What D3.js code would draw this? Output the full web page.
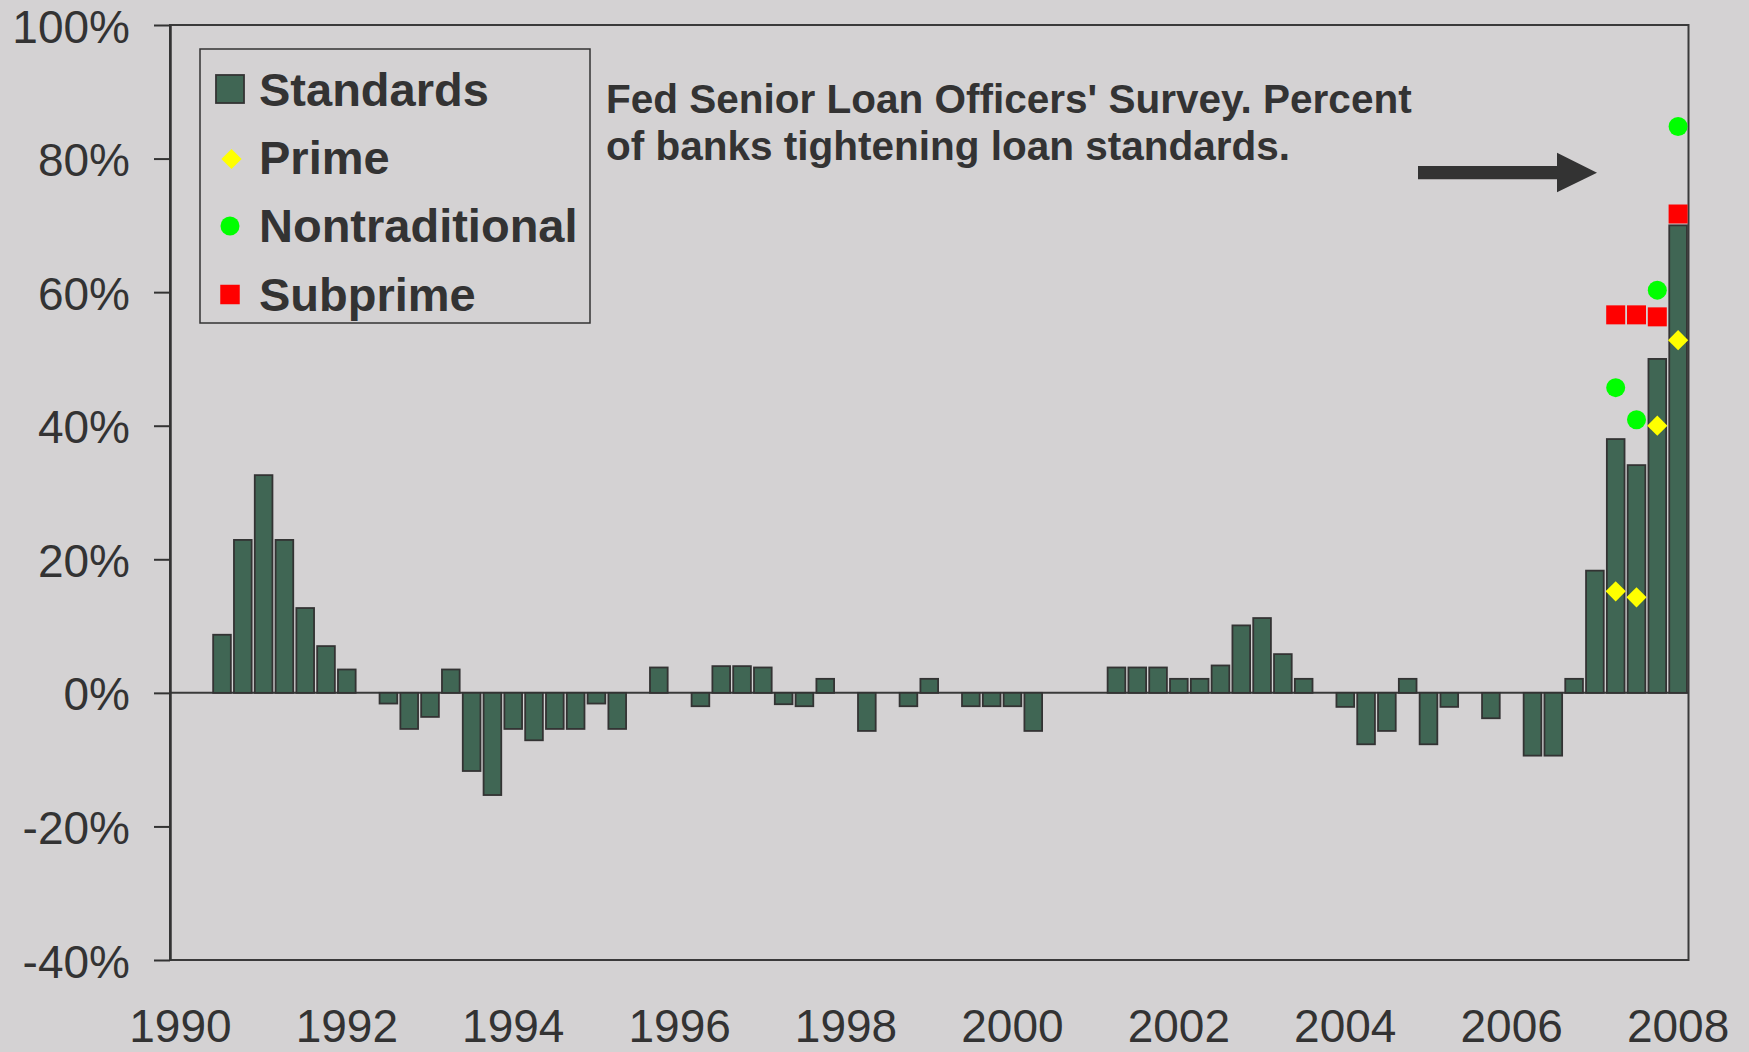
<!DOCTYPE html>
<html>
<head>
<meta charset="utf-8">
<script src="https://cdn.jsdelivr.net/npm/d3@7"></script>
<style>
  body { margin: 0; background: #d4d2d3; }
  text { font-family: "Liberation Sans", Arial, sans-serif; fill: #333; }
</style>
</head>
<body>
<div id="chart"></div>
<script>

// quarterly categories, 1990Q1 .. 2008Q1
var quarters = [];
for (var yr = 1990; yr <= 2008; yr++) {
  for (var q = 1; q <= 4; q++) {
    if (yr === 2008 && q > 1) break;
    quarters.push(yr + "Q" + q);
  }
}

// percent of banks tightening (net), one value per quarter
var standards = [null, null, 8.7, 22.9, 32.6, 22.9, 12.7, 7.0, 3.5, 0,
  -1.6, -5.4, -3.6, 3.5, -11.7, -15.3, -5.4, -7.1, -5.4, -5.4,
  -1.6, -5.4, 0, 3.8, 0, -2.0, 4.0, 4.0, 3.8, -1.7,
  -2.0, 2.1, 0, -5.7, 0, -2.0, 2.1, 0, -2.0, -2.0,
  -2.0, -5.7, 0, 0, 0, 3.8, 3.8, 3.8, 2.1, 2.1,
  4.1, 10.1, 11.2, 5.8, 2.1, 0, -2.1, -7.7, -5.7, 2.1,
  -7.7, -2.1, 0, -3.8, 0, -9.4, -9.4, 2.1, 18.3, 38.0,
  34.1, 50.0, 70.0];

// the new mortgage categories (from 2007Q2)
var recentQuarters = ["2007Q2", "2007Q3", "2007Q4", "2008Q1"];
var prime = [15.2, 14.3, 40.0, 52.8];
var nontraditional = [45.7, 40.9, 60.3, 84.8];
var subprime = [56.6, 56.6, 56.3, 71.7];

var yTicks = [-40, -20, 0, 20, 40, 60, 80, 100];
var yearTicks = ["1990", "1992", "1994", "1996", "1998", "2000", "2002", "2004", "2006", "2008"];

var width = 1749, height = 1052;
var plot = {left: 170, right: 1688.5, top: 25, bottom: 960};

var svg = d3.select("#chart").append("svg")
    .attr("width", width)
    .attr("height", height);

svg.append("rect")
    .attr("width", width)
    .attr("height", height)
    .attr("fill", "#d4d2d3");

// scales
var x = d3.scaleBand()
    .domain(quarters)
    .range([plot.left, plot.right])
    .paddingInner(0.15)
    .paddingOuter(0.075);

var y = d3.scaleLinear()
    .domain([-40, 100])
    .range([plot.bottom, plot.top]);

// plot frame
svg.append("rect")
    .attr("x", plot.left)
    .attr("y", plot.top)
    .attr("width", plot.right - plot.left)
    .attr("height", plot.bottom - plot.top)
    .attr("fill", "none")
    .attr("stroke", "#3a3a3a")
    .attr("stroke-width", 2);

// zero line
svg.append("line")
    .attr("x1", plot.left)
    .attr("x2", plot.right)
    .attr("y1", y(0))
    .attr("y2", y(0))
    .attr("stroke", "#3a3a3a")
    .attr("stroke-width", 2);

// bars
svg.selectAll(".bar")
    .data(quarters.map(function(k, i) { return {q: k, v: standards[i]}; })
      .filter(function(d) { return d.v !== null && d.v !== 0; }))
  .enter().append("rect")
    .attr("class", "bar")
    .attr("x", function(d) { return x(d.q); })
    .attr("width", x.bandwidth())
    .attr("y", function(d) { return y(Math.max(0, d.v)); })
    .attr("height", function(d) { return Math.abs(y(d.v) - y(0)); })
    .attr("fill", "#406654")
    .attr("stroke", "#333")
    .attr("stroke-width", 1.8);

// markers
var cx = function(k) { return x(k) + x.bandwidth() / 2; };

svg.selectAll(".sub")
    .data(recentQuarters)
  .enter().append("path")
    .attr("class", "sub")
    .attr("d", d3.symbol(d3.symbolSquare, 361))
    .attr("transform", function(d, i) { return "translate(" + cx(d) + "," + y(subprime[i]) + ")"; })
    .attr("fill", "#ff0000");

svg.selectAll(".nontrad")
    .data(recentQuarters)
  .enter().append("path")
    .attr("class", "nontrad")
    .attr("d", d3.symbol(d3.symbolCircle, 284))
    .attr("transform", function(d, i) { return "translate(" + cx(d) + "," + y(nontraditional[i]) + ")"; })
    .attr("fill", "#00ff00");

svg.selectAll(".prime")
    .data(recentQuarters)
  .enter().append("path")
    .attr("class", "prime")
    .attr("d", d3.symbol(d3.symbolSquare, 205))
    .attr("transform", function(d, i) { return "translate(" + cx(d) + "," + y(prime[i]) + ") rotate(45)"; })
    .attr("fill", "#ffff00");

// y axis
var yAxis = svg.append("g")
    .attr("transform", "translate(" + plot.left + ",0)")
    .call(d3.axisLeft(y).tickValues(yTicks).tickSize(16).tickSizeOuter(0)
      .tickPadding(24).tickFormat(function(d) { return d + "%"; }));
yAxis.select(".domain").attr("stroke", "#333").attr("stroke-width", 2.5);
yAxis.selectAll(".tick line").attr("stroke", "#333").attr("stroke-width", 2);
yAxis.selectAll("text")
    .attr("font-size", 46)
    .attr("dy", "0.37em")
    .attr("font-family", "Liberation Sans, Arial, sans-serif")
    .attr("fill", "#333");

// x axis (labels only)
var xAxis = svg.append("g")
    .attr("transform", "translate(0," + plot.bottom + ")")
    .call(d3.axisBottom(x)
      .tickValues(yearTicks.map(function(t) { return t + "Q1"; }))
      .tickSize(0).tickPadding(49)
      .tickFormat(function(d) { return d.slice(0, 4); }));
xAxis.select(".domain").remove();
xAxis.selectAll("text")
    .attr("font-size", 46)
    .attr("font-family", "Liberation Sans, Arial, sans-serif")
    .attr("fill", "#333");

// legend
var legend = svg.append("g");
legend.append("rect")
    .attr("x", 200).attr("y", 49)
    .attr("width", 390).attr("height", 274)
    .attr("fill", "none")
    .attr("stroke", "#333")
    .attr("stroke-width", 1.5);

var legendNames = ["Standards", "Prime", "Nontraditional", "Subprime"];
legend.selectAll(".ltext")
    .data(legendNames)
  .enter().append("text")
    .attr("class", "ltext")
    .attr("x", 259)
    .attr("y", function(d, i) { return 106 + i * 68.2; })
    .attr("font-size", 47)
    .attr("font-weight", "bold")
    .text(function(d) { return d; });

legend.append("rect")
    .attr("x", 216).attr("y", 75)
    .attr("width", 28).attr("height", 28)
    .attr("fill", "#406654")
    .attr("stroke", "#333")
    .attr("stroke-width", 1.8);
legend.append("path")
    .attr("d", d3.symbol(d3.symbolSquare, 205))
    .attr("transform", "translate(231.5,159) rotate(45)")
    .attr("fill", "#ffff00");
legend.append("path")
    .attr("d", d3.symbol(d3.symbolCircle, 284))
    .attr("transform", "translate(230,226)")
    .attr("fill", "#00ff00");
legend.append("path")
    .attr("d", d3.symbol(d3.symbolSquare, 380))
    .attr("transform", "translate(230,294.5)")
    .attr("fill", "#ff0000");

// annotation
var note = svg.append("text")
    .attr("x", 606)
    .attr("font-size", 40.5)
    .attr("font-weight", "bold");
note.append("tspan").attr("x", 606).attr("y", 113).text("Fed Senior Loan Officers' Survey. Percent");
note.append("tspan").attr("x", 606).attr("y", 160).text("of banks tightening loan standards.");

// arrow
svg.append("path")
    .attr("d", "M1418,166 L1557,166 L1557,152.7 L1597,172.7 L1557,192.3 L1557,179.3 L1418,179.3 Z")
    .attr("fill", "#333");

</script>
</body>
</html>
